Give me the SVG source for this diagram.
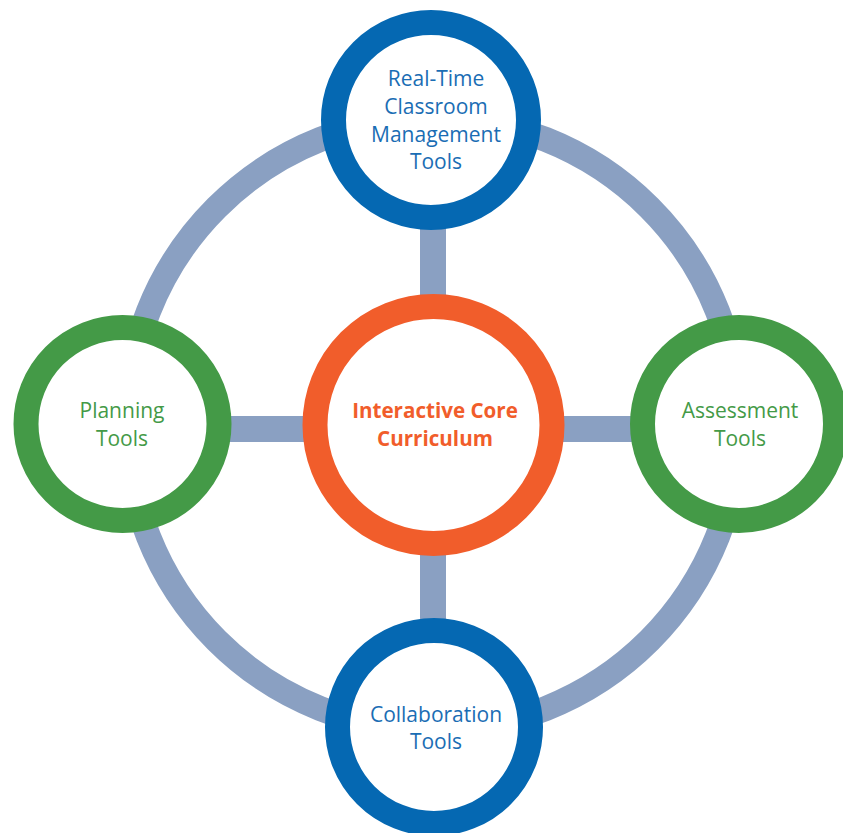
<svg xmlns="http://www.w3.org/2000/svg" width="843" height="833" viewBox="0 0 843 833">
<style>
.ring{fill:none;stroke:#8aa0c2;stroke-width:25}
.bar{fill:#8aa0c2}
.node{fill:#ffffff;stroke-width:25}
.blue{stroke:#0568b2}
.green{stroke:#449a47}
.orange{stroke:#f15d2b}
text{font-family:"Open Sans","Noto Sans","Liberation Sans",sans-serif;font-size:21px;text-anchor:middle}
.tb{fill:#1a6db4}
.tg{fill:#449a47}
.to{fill:#f15d2b;font-weight:bold;font-size:20.6px}
</style>
<rect width="843" height="833" fill="#ffffff"/>
<g id="connectors">
<circle class="ring" cx="433" cy="424" r="306"/>
<rect class="bar" x="420" y="200" width="26" height="460"/>
<rect class="bar" x="200" y="416" width="460" height="26"/>
</g>
<g id="node-top">
<circle class="node blue" cx="431" cy="120" r="97.5"/>
<text class="tb" x="436" y="86">Real-Time</text>
<text class="tb" x="436" y="114">Classroom</text>
<text class="tb" x="436" y="142">Management</text>
<text class="tb" x="436" y="169">Tools</text>
</g>
<g id="node-left">
<circle class="node green" cx="122.5" cy="424" r="96.5"/>
<text class="tg" x="122" y="418">Planning</text>
<text class="tg" x="122" y="446">Tools</text>
</g>
<g id="node-right">
<circle class="node green" cx="739" cy="424" r="96.5"/>
<text class="tg" x="740" y="418">Assessment</text>
<text class="tg" x="740" y="446">Tools</text>
</g>
<g id="node-bottom">
<circle class="node blue" cx="434" cy="727" r="96.5"/>
<text class="tb" x="436" y="722">Collaboration</text>
<text class="tb" x="436" y="749">Tools</text>
</g>
<g id="node-center">
<circle class="node orange" cx="433.5" cy="425" r="118.5"/>
<text class="to" x="435" y="418">Interactive Core</text>
<text class="to" x="435" y="446">Curriculum</text>
</g>
</svg>
